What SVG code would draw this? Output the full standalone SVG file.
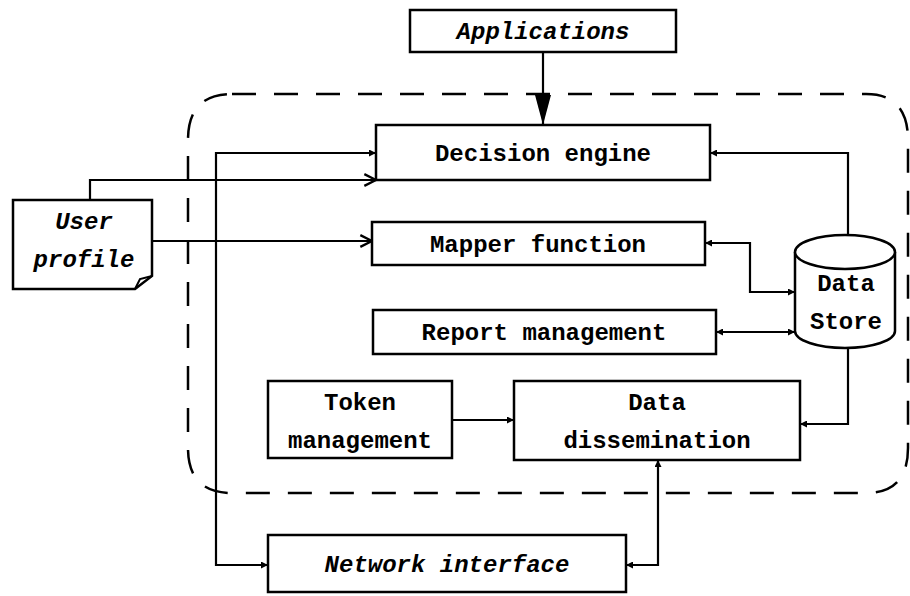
<svg xmlns="http://www.w3.org/2000/svg" width="910" height="596" viewBox="0 0 910 596">
<style>
.box{fill:#fff;stroke:#000;stroke-width:2.5}
.ln{fill:none;stroke:#000;stroke-width:2.2}
.t{font-family:"Liberation Mono","Courier New",monospace;font-weight:bold;font-size:24px;fill:#000;text-anchor:middle}
.i{font-style:italic}
</style>
<defs>
<marker id="fa" viewBox="0 0 10 10" refX="10" refY="5" markerWidth="7" markerHeight="7" markerUnits="userSpaceOnUse" orient="auto-start-reverse"><path d="M0,0 L10,5 L0,10 Z" fill="#000"/></marker>
<marker id="big" viewBox="0 0 10 10" refX="10" refY="5" markerWidth="30" markerHeight="16" markerUnits="userSpaceOnUse" orient="auto" preserveAspectRatio="none"><path d="M0,0 L10,5 L0,10 Z" fill="#000"/></marker>
<marker id="oa" viewBox="0 0 12 12" refX="11" refY="6" markerWidth="14" markerHeight="14" markerUnits="userSpaceOnUse" orient="auto"><path d="M1,1 L11,6 L1,11" fill="none" stroke="#000" stroke-width="2"/></marker>
</defs>
<g id="boundary">
<path d="M232,94 H866 Q908,94 908,140 V448 Q908,493 866,493 H232 Q188,493 188,448 V140 Q188,94 232,94 Z" fill="none" stroke="#000" stroke-width="2.5" stroke-dasharray="24 18"/>
</g>
<g id="connectors">
<line class="ln" x1="543" y1="52" x2="543" y2="125" marker-end="url(#big)"/>
<polyline class="ln" points="376,153 216,153 216,565 268,565" marker-start="url(#fa)" marker-end="url(#fa)"/>
<polyline class="ln" points="90,200 90,180 376,180" marker-end="url(#oa)"/>
<line class="ln" x1="152" y1="241" x2="372" y2="241" marker-end="url(#oa)"/>
<polyline class="ln" points="848,235 848,153 710,153" marker-end="url(#fa)"/>
<polyline class="ln" points="705,243 750,243 750,292 795,292" marker-start="url(#fa)" marker-end="url(#fa)"/>
<line class="ln" x1="716" y1="332" x2="795" y2="332" marker-start="url(#fa)" marker-end="url(#fa)"/>
<polyline class="ln" points="848,348 848,424 800,424" marker-end="url(#fa)"/>
<line class="ln" x1="452" y1="420" x2="514" y2="420" marker-end="url(#fa)"/>
<polyline class="ln" points="658,460 658,565 626,565" marker-start="url(#fa)" marker-end="url(#fa)"/>
</g>
<g id="applications"><rect class="box" x="410" y="10" width="266" height="42"/><text class="t i" x="543" y="39">Applications</text></g>
<g id="decision-engine"><rect class="box" x="376" y="125" width="334" height="55"/><text class="t" x="543" y="161">Decision engine</text></g>
<g id="mapper-function"><rect class="box" x="372" y="222" width="333" height="43"/><text class="t" x="538" y="252">Mapper function</text></g>
<g id="report-management"><rect class="box" x="373" y="310" width="343" height="44"/><text class="t" x="544" y="340">Report management</text></g>
<g id="token-management"><rect class="box" x="268" y="381" width="184" height="77"/><text class="t" x="360" y="410">Token</text><text class="t" x="360" y="448">management</text></g>
<g id="data-dissemination"><rect class="box" x="514" y="381" width="286" height="79"/><text class="t" x="657" y="410">Data</text><text class="t" x="657" y="448">dissemination</text></g>
<g id="network-interface"><rect class="box" x="268" y="535" width="358" height="57"/><text class="t i" x="447" y="572">Network interface</text></g>
<g id="data-store">
<path class="box" d="M795,252 V331 A50,17 0 0 0 895,331 V252"/>
<ellipse class="box" cx="845" cy="252" rx="50" ry="17"/>
<text class="t" x="846" y="291">Data</text><text class="t" x="846" y="329">Store</text>
</g>
<g id="user-profile">
<path class="box" d="M13,200 H152 V276 L135,289 H13 Z"/>
<path d="M152,276 L140,279 L135,289" fill="none" stroke="#000" stroke-width="2"/>
<text class="t i" x="84" y="229">User</text><text class="t i" x="84" y="267">profile</text>
</g>
</svg>
